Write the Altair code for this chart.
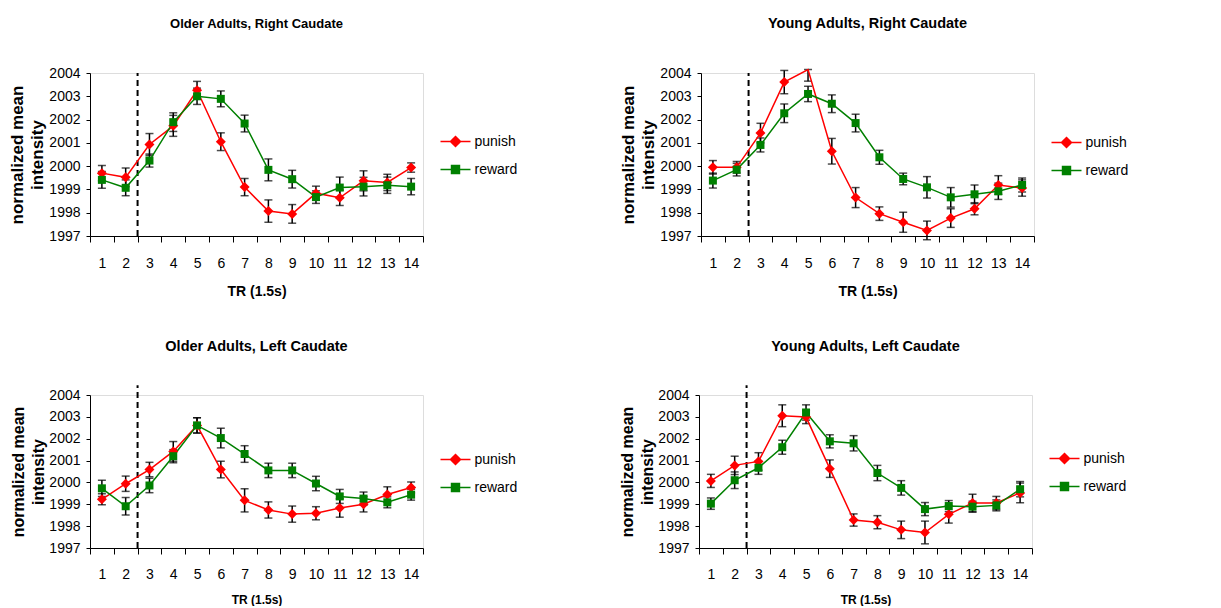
import altair as alt
import pandas as pd

TR = list(range(1, 15))
SERIES = ["punish", "reward"]
COLORS = ["#FF0000", "#008000"]
Y_TICKS = [1997, 1998, 1999, 2000, 2001, 2002, 2003, 2004]
Y_MIN, Y_MAX = 1997, 2004
ERR_CLIP = 2004.15
ONSET_TR = [3]

TITLES = [
    "Older Adults, Right Caudate",
    "Young Adults, Right Caudate",
    "Older Adults, Left Caudate",
    "Young Adults, Left Caudate",
]

old_right_punish = [1999.70, 1999.52, 2000.93, 2001.73, 2003.26, 2001.05, 1999.10,
                    1998.07, 1997.95, 1998.84, 1998.64, 1999.37, 1999.30, 1999.94]
old_right_punish_err = [0.33, 0.40, 0.47, 0.45, 0.38, 0.38, 0.37,
                        0.48, 0.40, 0.30, 0.33, 0.43, 0.35, 0.20]
old_right_reward = [1999.41, 1999.07, 2000.24, 2001.89, 2003.00, 2002.89, 2001.83,
                    1999.84, 1999.44, 1998.67, 1999.08, 1999.12, 1999.18, 1999.12]
old_right_reward_err = [0.36, 0.34, 0.28, 0.40, 0.35, 0.34, 0.36,
                        0.47, 0.38, 0.27, 0.45, 0.40, 0.35, 0.35]

young_right_punish = [1999.95, 1999.95, 2001.42, 2003.61, 2004.15, 2000.64, 1998.65,
                      1997.96, 1997.59, 1997.24, 1997.77, 1998.17, 1999.19, 1999.06]
young_right_punish_err = [0.29, 0.25, 0.42, 0.50, 0.50, 0.55, 0.43,
                          0.29, 0.43, 0.40, 0.40, 0.26, 0.40, 0.35]
young_right_reward = [1999.38, 1999.85, 2000.91, 2002.27, 2003.10, 2002.68, 2001.85,
                      2000.38, 1999.45, 1999.09, 1998.66, 1998.79, 1998.92, 1999.19]
young_right_reward_err = [0.32, 0.27, 0.30, 0.40, 0.33, 0.38, 0.38,
                          0.30, 0.25, 0.46, 0.42, 0.40, 0.35, 0.30]

old_left_punish = [1999.23, 1999.94, 2000.59, 2001.42, 2002.61, 2000.59, 1999.18,
                   1998.74, 1998.55, 1998.59, 1998.83, 1999.00, 1999.45, 1999.77]
old_left_punish_err = [0.25, 0.35, 0.33, 0.45, 0.35, 0.38, 0.53,
                       0.37, 0.37, 0.30, 0.42, 0.35, 0.35, 0.25]
old_left_reward = [1999.73, 1998.91, 1999.86, 2001.20, 2002.61, 2002.03, 2001.30,
                   2000.55, 2000.55, 1999.95, 1999.36, 1999.26, 1999.09, 1999.44]
old_left_reward_err = [0.37, 0.40, 0.33, 0.30, 0.35, 0.45, 0.38,
                       0.33, 0.33, 0.33, 0.32, 0.30, 0.25, 0.25]

young_left_punish = [2000.07, 2000.78, 2000.96, 2003.05, 2002.99, 2000.63, 1998.28,
                     1998.18, 1997.83, 1997.71, 1998.54, 1999.06, 1999.06, 1999.52]
young_left_punish_err = [0.30, 0.42, 0.40, 0.50, 0.30, 0.40, 0.28,
                         0.30, 0.40, 0.52, 0.40, 0.40, 0.30, 0.45]
young_left_reward = [1999.03, 2000.10, 2000.67, 2001.61, 2003.20, 2001.88, 2001.79,
                     2000.43, 1999.75, 1998.78, 1998.92, 1998.89, 1998.95, 1999.69]
young_left_reward_err = [0.26, 0.38, 0.30, 0.32, 0.35, 0.30, 0.35,
                         0.35, 0.33, 0.30, 0.25, 0.25, 0.25, 0.35]

PANELS = [
    (old_right_punish, old_right_punish_err, old_right_reward, old_right_reward_err),
    (young_right_punish, young_right_punish_err, young_right_reward, young_right_reward_err),
    (old_left_punish, old_left_punish_err, old_left_reward, old_left_reward_err),
    (young_left_punish, young_left_punish_err, young_left_reward, young_left_reward_err),
]
DASH_TOP = [2004.0, 2004.0, 2004.45, 2004.45]

# styling per panel
TITLE_SIZE = [13, 14.5, 14.5, 14.5]
XTITLE_SIZE = [14, 14, 12, 12]
YTITLE_SIZE = [17, 17, 16, 16]
HEIGHTS = [163, 163, 153, 153]
LEGEND_Y = [60, 61, 56, 55]
TITLE_OFFSET = [35, 35, 30, 30]

FONT = "Liberation Sans"
PUNISH_PATH = "M-2,0L2,0M0,-0.67L0.67,0L0,0.67L-0.67,0Z"
REWARD_PATH = "M-2,0L2,0M-0.53,-0.53L0.53,-0.53L0.53,0.53L-0.53,0.53Z"

color_scale = alt.Scale(domain=SERIES, range=COLORS)


def make_panel(i):
    p, pe, r, re_ = PANELS[i]
    df = pd.DataFrame({
        "tr": TR * 2,
        "series": ["punish"] * 14 + ["reward"] * 14,
        "value": p + r,
        "err": pe + re_,
    })
    dash_df = pd.DataFrame({"tr": ONSET_TR, "y0": [Y_MIN], "y1": [DASH_TOP[i]]})

    xscale = alt.Scale(type="band", paddingInner=0, paddingOuter=0)
    xaxis = alt.Axis(
        title="TR (1.5s)", labelAngle=0, tickBand="extent", tickSize=6,
        labelPadding=14 if i < 2 else 13, labelFontSize=14, labelFont=FONT,
        titleFont=FONT, titleFontSize=XTITLE_SIZE[i], titleFontWeight="bold",
        titlePadding=14 if i < 2 else 13, domainColor="black", tickColor="black",
        labelColor="black", titleColor="black", grid=False,
    )
    yaxis = alt.Axis(
        title=["normalized mean", "intensity"], values=Y_TICKS, format="d",
        tickSize=4, labelPadding=6, labelFontSize=14, labelFont=FONT,
        titleFont=FONT, titleFontSize=YTITLE_SIZE[i], titleFontWeight="bold",
        titleLineHeight=20, titlePadding=2, domainColor="black", tickColor="black",
        labelColor="black", titleColor="black", grid=False,
    )
    yscale = alt.Scale(domain=[Y_MIN, Y_MAX], nice=False, zero=False)

    def X(bp=None):
        if bp is None:
            return alt.X("tr:O", scale=xscale, axis=xaxis)
        return alt.X("tr:O", scale=xscale, axis=xaxis, bandPosition=bp)

    def Y(field):
        return alt.Y(field, scale=yscale, axis=yaxis)

    base = alt.Chart(df)

    leg = alt.Legend(
        title=None, orient="none", legendX=357, legendY=LEGEND_Y[i],
        symbolSize=225, labelFontSize=14, labelFont=FONT, labelColor="black",
        labelOffset=10.5, rowPadding=11, symbolStrokeWidth=1.5, padding=0,
        symbolOpacity=1,
    )
    legend_layer = base.transform_filter("false").mark_point(
        filled=True, strokeWidth=1.5, opacity=1
    ).encode(
        x=X(), y=Y("value:Q"),
        color=alt.Color("series:N", scale=color_scale, legend=leg),
        stroke=alt.Stroke("series:N", scale=color_scale, legend=leg),
        shape=alt.Shape("series:N",
                        scale=alt.Scale(domain=SERIES, range=[PUNISH_PATH, REWARD_PATH]),
                        legend=leg),
    )

    dash = alt.Chart(dash_df).mark_rule(
        color="black", strokeWidth=2, strokeDash=[6, 4]
    ).encode(x=X(0), y=Y("y0:Q"), y2="y1:Q")

    eb = base.transform_calculate(
        lo="datum.value - datum.err",
        hi="min(datum.value + datum.err, %s)" % ERR_CLIP,
    )
    err_rule = eb.mark_rule(color="black", strokeWidth=1.5).encode(
        x=X(), y=Y("lo:Q"), y2="hi:Q")
    cap_lo = eb.mark_tick(color="black", size=8, thickness=1.5).encode(
        x=X(), y=Y("lo:Q"))
    cap_hi = eb.mark_tick(color="black", size=8, thickness=1.5).encode(
        x=X(), y=Y("hi:Q"))

    layers = [legend_layer, dash, err_rule, cap_lo, cap_hi]
    for s, col in [("punish", COLORS[0]), ("reward", COLORS[1])]:
        sb = base.transform_filter("datum.series == '%s'" % s)
        layers.append(sb.mark_line(strokeWidth=1.5, color=col).encode(
            x=X(), y=Y("value:Q")))
    for s, col, shp, sz in [("punish", COLORS[0], "diamond", 100),
                            ("reward", COLORS[1], "square", 64)]:
        sb = base.transform_filter(
            "datum.series == '%s' && datum.value <= %s" % (s, Y_MAX))
        layers.append(sb.mark_point(shape=shp, filled=True, size=sz, color=col,
                                    opacity=1).encode(x=X(), y=Y("value:Q")))

    return alt.layer(*layers).properties(
        width=333, height=HEIGHTS[i],
        title=alt.TitleParams(
            TITLES[i], font=FONT, fontSize=TITLE_SIZE[i], fontWeight="bold",
            color="black", anchor="middle", frame="group", offset=TITLE_OFFSET[i],
        ),
    )


IND = dict(color="independent", stroke="independent", shape="independent")

row1 = alt.hconcat(make_panel(0), make_panel(1), spacing=100).resolve_scale(**IND)
row2 = alt.hconcat(make_panel(2), make_panel(3), spacing=100).resolve_scale(**IND)
chart = alt.vconcat(row1, row2, spacing=39).resolve_scale(**IND).properties(
    padding={"left": 0, "top": 7, "right": 0, "bottom": 0}
).configure_view(stroke=None).configure(background="white")

chart.save("out.html", embed_options={"renderer": "svg", "actions": False})
